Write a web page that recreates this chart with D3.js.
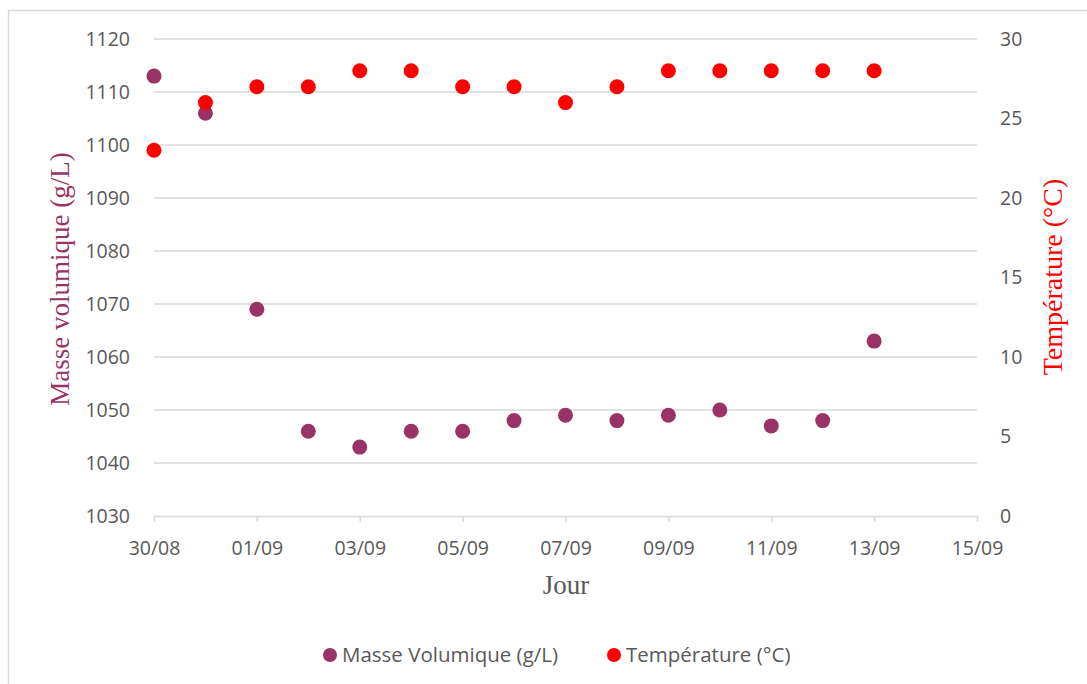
<!DOCTYPE html>
<html>
<head>
<meta charset="utf-8">
<script src="https://cdn.jsdelivr.net/npm/d3@7"></script>
<style>
  body { margin: 0; background: #fff; }
  svg { display: block; }
</style>
</head>
<body>
<svg width="1087" height="684"></svg>
<script>
// data
var days = ["30/08","31/08","01/09","02/09","03/09","04/09","05/09","06/09","07/09","08/09","09/09","10/09","11/09","12/09","13/09"];
var masse = [1113,1106,1069,1046,1043,1046,1046,1048,1049,1048,1049,1050,1047,1048,1063];
var temp = [23,26,27,27,28,28,27,27,26,27,28,28,28,28,28];
var xTicks = ["30/08","01/09","03/09","05/09","07/09","09/09","11/09","13/09","15/09"];
var leftTicks = [1030,1040,1050,1060,1070,1080,1090,1100,1110,1120];
var rightTicks = [0,5,10,15,20,25,30];

var parse = d3.utcParse("%d/%m/%Y");
function toDate(s){ return parse(s + "/2020"); }

var svg = d3.select("svg");
var tickFont = "'Open Sans', Lato, sans-serif";
var serif = "'Liberation Serif', 'DejaVu Serif', serif";
var grey = "#595959";
var purple = "#993366";
var red = "#ff0000";

// outer frame
svg.append("rect")
  .attr("x", 8.5).attr("y", 10.5)
  .attr("width", 1100).attr("height", 700)
  .attr("fill", "none").attr("stroke", "#d9d9d9").attr("stroke-width", 1.5);

var plotLeft = 154, plotRight = 977, plotTop = 39, plotBottom = 516;

var x = d3.scaleUtc()
  .domain([toDate("30/08"), toDate("15/09")])
  .range([plotLeft, plotRight]);
var yL = d3.scaleLinear().domain([1030, 1120]).range([plotBottom, plotTop]);
var yR = d3.scaleLinear().domain([0, 30]).range([plotBottom, plotTop]);

// gridlines
svg.append("g")
  .selectAll("line")
  .data(leftTicks.slice(1))
  .enter().append("line")
    .attr("x1", plotLeft).attr("x2", plotRight)
    .attr("y1", function(d){ return yL(d); })
    .attr("y2", function(d){ return yL(d); })
    .attr("stroke", "#d9d9d9").attr("stroke-width", 1.5);

// x axis
var xAxis = svg.append("g")
  .attr("transform", "translate(0," + plotBottom + ")")
  .call(d3.axisBottom(x)
    .tickValues(xTicks.map(toDate))
    .tickFormat(d3.utcFormat("%d/%m"))
    .tickSizeInner(6).tickSizeOuter(0).tickPadding(19));
xAxis.select(".domain").attr("stroke", "#d9d9d9").attr("stroke-width", 1.5);
xAxis.selectAll(".tick line").attr("stroke", "#d9d9d9").attr("stroke-width", 1.5);
xAxis.selectAll("text")
  .attr("fill", grey).style("font-family", tickFont).style("font-size", "19.5px");

// left axis
var yAxisL = svg.append("g")
  .attr("transform", "translate(" + plotLeft + ",0)")
  .call(d3.axisLeft(yL).tickValues(leftTicks).tickFormat(d3.format("d")).tickSize(0).tickPadding(24));
yAxisL.select(".domain").remove();
yAxisL.selectAll("text")
  .attr("fill", grey).style("font-family", tickFont).style("font-size", "19.5px");

// right axis
var yAxisR = svg.append("g")
  .attr("transform", "translate(" + plotRight + ",0)")
  .call(d3.axisRight(yR).tickValues(rightTicks).tickSize(0).tickPadding(23));
yAxisR.select(".domain").remove();
yAxisR.selectAll("text")
  .attr("fill", grey).style("font-family", tickFont).style("font-size", "19.5px");

// axis titles
svg.append("text")
  .attr("transform", "translate(69,279) rotate(-90)")
  .attr("text-anchor", "middle")
  .attr("fill", purple)
  .style("font-family", serif).style("font-size", "27px")
  .text("Masse volumique  (g/L)");

svg.append("text")
  .attr("transform", "translate(1062,277) rotate(-90)")
  .attr("text-anchor", "middle")
  .attr("fill", red)
  .style("font-family", serif).style("font-size", "28px")
  .text("Température (°C)");

svg.append("text")
  .attr("x", 566).attr("y", 594)
  .attr("text-anchor", "middle")
  .attr("fill", grey)
  .style("font-family", serif).style("font-size", "27px")
  .text("Jour");

// points
svg.append("g")
  .selectAll("circle")
  .data(days)
  .enter().append("circle")
    .attr("cx", function(d){ return x(toDate(d)); })
    .attr("cy", function(d, i){ return yL(masse[i]); })
    .attr("r", 7.5)
    .attr("fill", purple);

svg.append("g")
  .selectAll("circle")
  .data(days)
  .enter().append("circle")
    .attr("cx", function(d){ return x(toDate(d)); })
    .attr("cy", function(d, i){ return yR(temp[i]); })
    .attr("r", 7.5)
    .attr("fill", red);

// legend
var legend = [
  {label: "Masse Volumique (g/L)", color: purple, x: 330},
  {label: "Température (°C)", color: red, x: 614}
];
var lg = svg.append("g").selectAll("g")
  .data(legend)
  .enter().append("g")
    .attr("transform", function(d){ return "translate(" + d.x + ",655)"; });
lg.append("circle").attr("r", 7).attr("fill", function(d){ return d.color; });
lg.append("text")
  .attr("x", 12).attr("dy", "0.35em")
  .attr("fill", grey)
  .style("font-family", tickFont).style("font-size", "20.5px")
  .text(function(d){ return d.label; });
</script>
</body>
</html>
